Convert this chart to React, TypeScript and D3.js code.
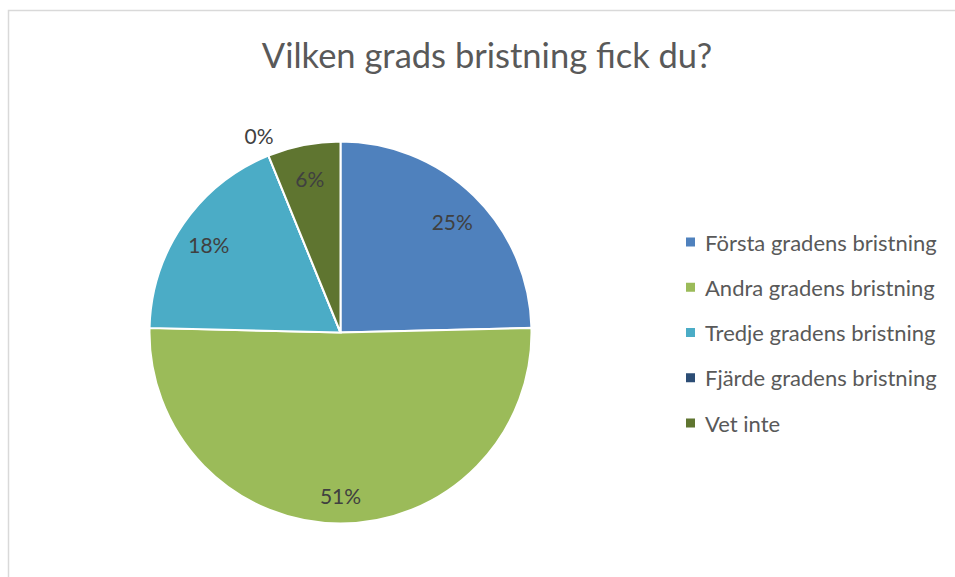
import React from 'react';
import * as d3 from 'd3';

// survey answers (counts), percentages shown are rounded shares
const categories = [
	'Första gradens bristning',
	'Andra gradens bristning',
	'Tredje gradens bristning',
	'Fjärde gradens bristning',
	'Vet inte',
];
const counts = [16, 33, 12, 0, 4];
const colors = ['#4F81BD', '#9BBB59', '#4BACC6', '#2C4D75', '#5F7530'];
const title = 'Vilken grads bristning fick du?';

const W = 955;
const H = 577;
const cx = 340.5;
const cy = 332.5;
const R = 191;
const font = 'Lato, "Open Sans", sans-serif';

export default function App() {
	const total = d3.sum(counts);
	const pie = d3
		.pie<number>()
		.sort(null)
		.value((d) => d)
		.startAngle(0)
		.endAngle(2 * Math.PI);
	const arcs = pie(counts);

	const sliceArc = d3.arc<d3.PieArcDatum<number>>().innerRadius(0).outerRadius(R);
	const labelArc = d3.arc<d3.PieArcDatum<number>>().innerRadius(160).outerRadius(160);
	const outerLabelArc = d3.arc<d3.PieArcDatum<number>>().innerRadius(216).outerRadius(216);

	const pct = d3.format('.0%');
	const legendY = d3.scalePoint<string>().domain(categories).range([242, 423]);

	return (
		<div style={{ position: 'absolute', left: 0, top: 0 }}>
			<svg width={W} height={H} style={{ display: 'block', background: '#fff' }}>
				<rect x={8.5} y={10.5} width={W + 10} height={H + 10} fill="#fff" stroke="#d9d9d9" strokeWidth={1.5} />

				<text
					x={487}
					y={54}
					textAnchor="middle"
					dominantBaseline="central"
					style={{ fontFamily: font, fontSize: '34.5px', fill: '#595959' }}>
					{title}
				</text>

				<g transform={`translate(${cx}, ${cy})`}>
					{arcs.map((a, i) => (
						<path key={categories[i]} d={sliceArc(a) || ''} fill={colors[i]} stroke="#fff" strokeWidth={2} />
					))}
					{arcs.map((a, i) => {
						const [lx, ly] = a.value === 0 ? outerLabelArc.centroid(a) : labelArc.centroid(a);
						return (
							<text
								key={'l' + i}
								x={lx}
								y={ly + 3}
								textAnchor="middle"
								dominantBaseline="central"
								style={{ fontFamily: font, fontSize: '21px', fill: '#404040' }}>
								{pct(a.value / total)}
							</text>
						);
					})}
				</g>

				<g>
					{categories.map((c, i) => (
						<g key={c} transform={`translate(0, ${legendY(c)})`}>
							<rect x={686} y={-4.5} width={9} height={9} fill={colors[i]} />
							<text
								x={705}
								y={0}
								dominantBaseline="central"
								style={{ fontFamily: font, fontSize: '22px', fill: '#595959' }}>
								{c}
							</text>
						</g>
					))}
				</g>
			</svg>
		</div>
	);
}
